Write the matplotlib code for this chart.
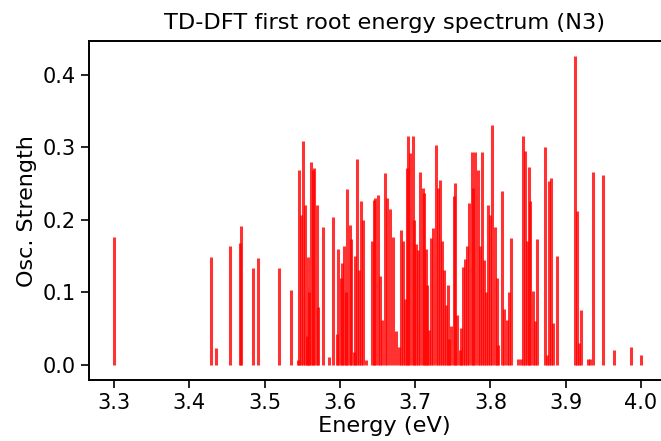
import numpy as np
import matplotlib
matplotlib.use('Agg')
import matplotlib.pyplot as plt

# excitation energies (eV) and oscillator strengths
energy = [3.300, 3.429, 3.435, 3.454, 3.467, 3.469, 3.485, 3.491, 3.519, 3.535,
          3.544, 3.546, 3.548, 3.551, 3.554, 3.556, 3.557, 3.559, 3.561, 3.564,
          3.566, 3.569, 3.571, 3.577, 3.585, 3.591, 3.596, 3.598, 3.601, 3.603,
          3.606, 3.608, 3.610, 3.613, 3.615, 3.618, 3.620, 3.623, 3.625, 3.628,
          3.631, 3.635, 3.642, 3.645, 3.647, 3.650, 3.653, 3.656, 3.660, 3.663,
          3.667, 3.670, 3.674, 3.678, 3.681, 3.684, 3.687, 3.689, 3.691, 3.693,
          3.697, 3.699, 3.701, 3.704, 3.707, 3.710, 3.712, 3.714, 3.716, 3.718,
          3.721, 3.724, 3.727, 3.730, 3.733, 3.736, 3.738, 3.741, 3.743, 3.745,
          3.748, 3.751, 3.753, 3.756, 3.759, 3.761, 3.763, 3.766, 3.769, 3.772,
          3.775, 3.777, 3.780, 3.783, 3.786, 3.789, 3.792, 3.794, 3.797, 3.799,
          3.802, 3.806, 3.808, 3.810, 3.815, 3.818, 3.822, 3.824, 3.827, 3.837,
          3.840, 3.843, 3.846, 3.849, 3.851, 3.853, 3.857, 3.859, 3.862, 3.872,
          3.875, 3.878, 3.880, 3.883, 3.889, 3.912, 3.915, 3.917, 3.920, 3.929,
          3.932, 3.936, 3.950, 3.964, 3.987, 4.000]
strength = [0.176, 0.149, 0.023, 0.164, 0.168, 0.191, 0.134, 0.147, 0.133, 0.103,
            0.007, 0.269, 0.206, 0.309, 0.220, 0.040, 0.149, 0.100, 0.279, 0.268,
            0.271, 0.220, 0.080, 0.190, 0.010, 0.203, 0.043, 0.159, 0.120, 0.140,
            0.164, 0.100, 0.242, 0.192, 0.174, 0.018, 0.150, 0.283, 0.130, 0.226,
            0.199, 0.006, 0.170, 0.227, 0.230, 0.234, 0.123, 0.062, 0.264, 0.230,
            0.214, 0.176, 0.046, 0.024, 0.186, 0.170, 0.090, 0.271, 0.315, 0.292,
            0.315, 0.200, 0.166, 0.158, 0.266, 0.244, 0.237, 0.160, 0.110, 0.048,
            0.175, 0.189, 0.303, 0.244, 0.255, 0.170, 0.130, 0.083, 0.110, 0.036,
            0.053, 0.233, 0.251, 0.068, 0.020, 0.050, 0.135, 0.146, 0.163, 0.223,
            0.293, 0.243, 0.293, 0.269, 0.164, 0.293, 0.145, 0.100, 0.220, 0.207,
            0.330, 0.190, 0.120, 0.027, 0.240, 0.077, 0.062, 0.100, 0.175, 0.008,
            0.008, 0.315, 0.294, 0.170, 0.273, 0.226, 0.101, 0.060, 0.174, 0.300,
            0.014, 0.253, 0.257, 0.058, 0.150, 0.425, 0.212, 0.030, 0.075, 0.008,
            0.008, 0.265, 0.262, 0.020, 0.025, 0.014]

fig = plt.figure(figsize=(6.61, 4.41), dpi=100)
ax = fig.add_axes([0.134, 0.138, 0.895, 0.769])

ax.vlines(energy, 0, strength, color='red', alpha=0.8, linewidth=2.2)

ax.set_xlim(3.266, 4.052)
ax.set_xticks([3.3, 3.4, 3.5, 3.6, 3.7, 3.8, 3.9, 4.0])
ax.set_yticks([0.0, 0.1, 0.2, 0.3, 0.4])
ax.tick_params(labelsize=15, length=6, width=1.2)
for s in ax.spines.values():
    s.set_linewidth(1.4)
ax.spines['right'].set_visible(False)  # falls outside the canvas anyway
ax.set_xlabel('Energy (eV)', fontsize=16.2, labelpad=2)
ax.set_ylabel('Osc. Strength', fontsize=16)
ax.set_title('TD-DFT first root energy spectrum (N3)', fontsize=16.2, pad=9)

fig.savefig('out.png', dpi=100)
